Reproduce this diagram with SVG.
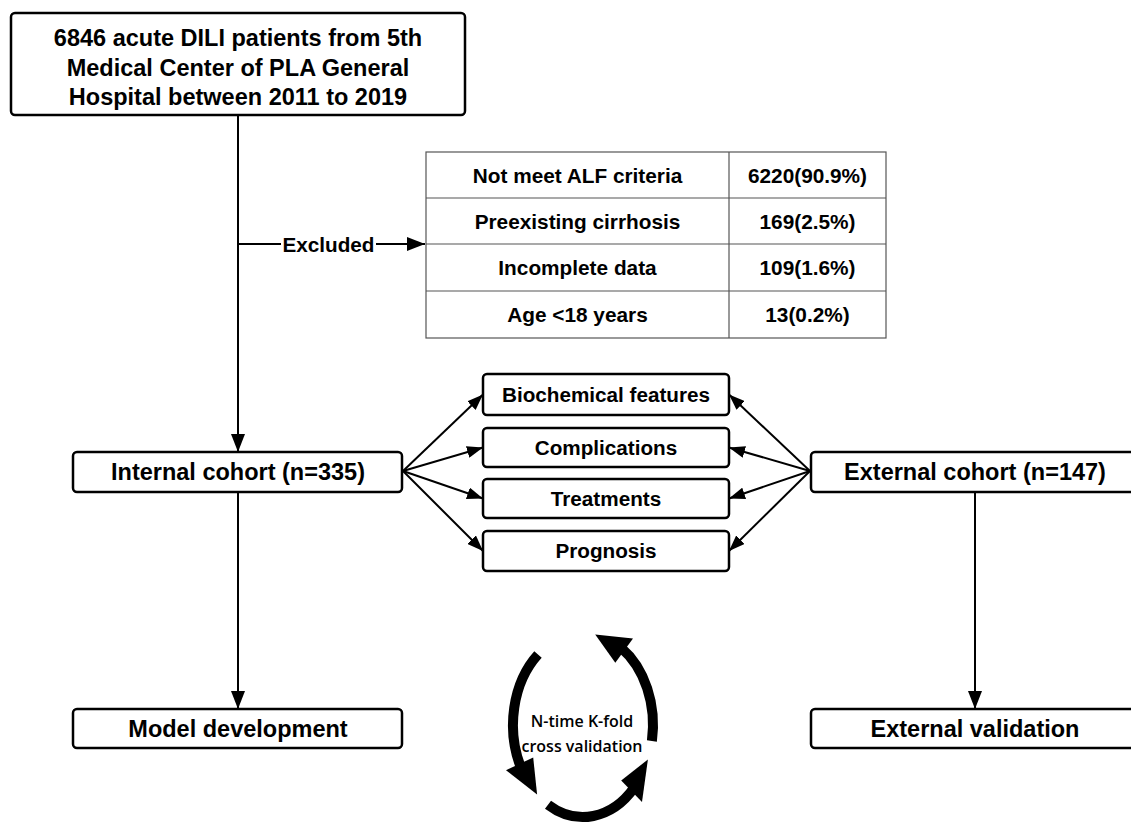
<svg xmlns="http://www.w3.org/2000/svg" width="1131" height="824" viewBox="0 0 1131 824">
<style>
.box{fill:#fff;stroke:#000;stroke-width:2.5}
.t{font-family:"Liberation Sans",Arial,sans-serif;font-weight:bold;fill:#000;text-anchor:middle}
.big{font-size:23.5px}
.mid{font-size:20.7px}
.tbl{font-size:20.8px}
.ln{stroke:#000;stroke-width:2;fill:none}
.grid{stroke:#555;stroke-width:1.2;fill:none}
.ring{stroke:#000;stroke-width:10;fill:none}
.cv{font-family:"Open Sans","Noto Sans",sans-serif;font-weight:600;font-size:16px;text-anchor:middle;fill:#000}
</style>
<defs>
<marker id="ah" markerUnits="userSpaceOnUse" markerWidth="18" markerHeight="14" refX="18" refY="7" orient="auto">
<path d="M0,0 L18,7 L0,14 Z" fill="#000"/>
</marker>
<marker id="ahs" markerUnits="userSpaceOnUse" markerWidth="16" markerHeight="12" refX="16" refY="6" orient="auto">
<path d="M0,0 L16,6 L0,12 Z" fill="#000"/>
</marker>
</defs>
<rect width="1131" height="824" fill="#fff"/>

<g id="connectors">
<line class="ln" x1="238" y1="115" x2="238" y2="452" marker-end="url(#ah)"/>
<line class="ln" x1="238" y1="244" x2="281" y2="244"/>
<line class="ln" x1="376" y1="244" x2="425" y2="244" marker-end="url(#ah)"/>
<line class="ln" x1="238" y1="492" x2="238" y2="709" marker-end="url(#ah)"/>
<line class="ln" x1="975" y1="492" x2="975" y2="709" marker-end="url(#ah)"/>
<line class="ln" x1="403" y1="471" x2="483" y2="394.5" marker-end="url(#ahs)"/>
<line class="ln" x1="403" y1="471" x2="483" y2="447.5" marker-end="url(#ahs)"/>
<line class="ln" x1="403" y1="471" x2="483" y2="498.5" marker-end="url(#ahs)"/>
<line class="ln" x1="403" y1="471" x2="483" y2="551" marker-end="url(#ahs)"/>
<line class="ln" x1="810" y1="471" x2="729" y2="394.5" marker-end="url(#ahs)"/>
<line class="ln" x1="810" y1="471" x2="729" y2="447.5" marker-end="url(#ahs)"/>
<line class="ln" x1="810" y1="471" x2="729" y2="498.5" marker-end="url(#ahs)"/>
<line class="ln" x1="810" y1="471" x2="729" y2="551" marker-end="url(#ahs)"/>
<text class="t mid" x="328.5" y="251.5">Excluded</text>
</g>

<g id="source">
<rect class="box" x="11" y="13" width="454" height="102" rx="4"/>
<text class="t big" x="238" y="45.5">6846 acute DILI patients from 5th</text>
<text class="t big" x="238" y="76">Medical Center of PLA General</text>
<text class="t big" x="238" y="105">Hospital between 2011 to 2019</text>
</g>

<g id="exclusion-table">
<rect class="grid" x="426" y="152" width="460" height="186"/>
<line class="grid" x1="426" y1="198" x2="886" y2="198"/>
<line class="grid" x1="426" y1="244" x2="886" y2="244"/>
<line class="grid" x1="426" y1="291" x2="886" y2="291"/>
<line class="grid" x1="729" y1="152" x2="729" y2="338"/>
<text class="t tbl" x="577.5" y="182.5">Not meet ALF criteria</text>
<text class="t tbl" x="807.5" y="182.5">6220(90.9%)</text>
<text class="t tbl" x="577.5" y="228.5">Preexisting cirrhosis</text>
<text class="t tbl" x="807.5" y="228.5">169(2.5%)</text>
<text class="t tbl" x="577.5" y="275">Incomplete data</text>
<text class="t tbl" x="807.5" y="275">109(1.6%)</text>
<text class="t tbl" x="577.5" y="322">Age &lt;18 years</text>
<text class="t tbl" x="807.5" y="322">13(0.2%)</text>
</g>

<g id="internal-cohort">
<rect class="box" x="73" y="452" width="329" height="40" rx="4"/>
<text class="t big" x="238" y="480">Internal cohort (n=335)</text>
</g>

<g id="external-cohort">
<rect class="box" x="811" y="452" width="330" height="40" rx="4"/>
<text class="t big" x="975" y="480">External cohort (n=147)</text>
</g>

<g id="biochemical">
<rect class="box" x="483" y="374" width="246" height="41" rx="4"/>
<text class="t mid" x="606" y="401.5">Biochemical features</text>
</g>
<g id="complications">
<rect class="box" x="483" y="428" width="246" height="39" rx="4"/>
<text class="t mid" x="606" y="454.5">Complications</text>
</g>
<g id="treatments">
<rect class="box" x="483" y="479" width="246" height="39" rx="4"/>
<text class="t mid" x="606" y="505.5">Treatments</text>
</g>
<g id="prognosis">
<rect class="box" x="483" y="531" width="246" height="40" rx="4"/>
<text class="t mid" x="606" y="558">Prognosis</text>
</g>

<g id="model-development">
<rect class="box" x="73" y="709" width="329" height="39" rx="4"/>
<text class="t big" x="238" y="737">Model development</text>
</g>

<g id="external-validation">
<rect class="box" x="811" y="709" width="330" height="39" rx="4"/>
<text class="t big" x="975" y="737">External validation</text>
</g>

<g id="cross-validation">
<path class="ring" d="M538.0,654.5 A70,92 0 0 0 521.2,768.2"/>
<path d="M506.0,770.2 L533.2,757.5 L537.1,794.4 Z" fill="#000"/>
<path class="ring" d="M548.0,804.7 A70,92 0 0 0 634.2,787.7"/>
<path d="M642.0,802.0 L621.2,780.4 L647.9,759.5 Z" fill="#000"/>
<path class="ring" d="M651.9,741.0 A70,92 0 0 0 621.1,647.8"/>
<path d="M633.0,638.4 L615.3,662.7 L595.2,634.4 Z" fill="#000"/>
<text class="cv" x="582" y="727">N-time K-fold</text>
<text class="cv" x="582" y="752">cross validation</text>
</g>
</svg>
